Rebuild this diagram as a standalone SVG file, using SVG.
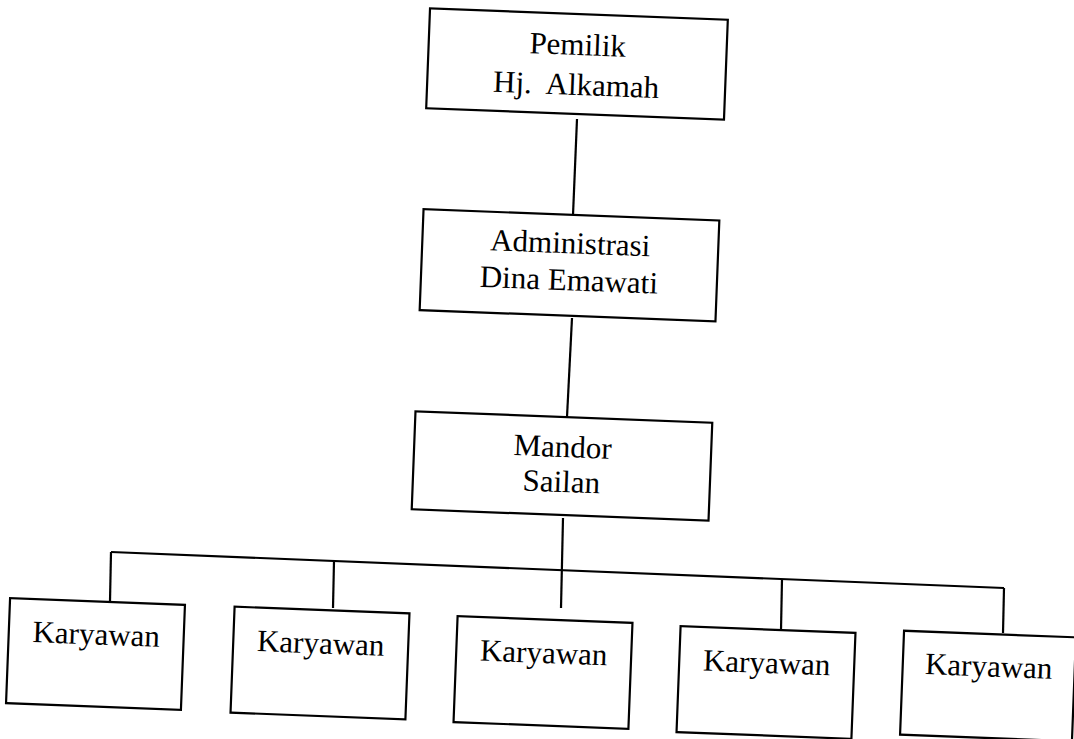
<svg xmlns="http://www.w3.org/2000/svg" width="1074" height="739" viewBox="0 0 1074 739">
<style>
.box{fill:#fff;stroke:#000;stroke-width:2.2}
.t{font-family:"Liberation Serif","Times New Roman",serif;font-size:31px;fill:#000;text-anchor:middle}
.c{stroke:#000;stroke-width:2.2;fill:none}
</style>
<rect width="1074" height="739" fill="#fff"/>
<g id="connectors">
<line class="c" x1="577" y1="119" x2="573" y2="215"/>
<line class="c" x1="572" y1="318" x2="567" y2="417"/>
<line class="c" x1="563" y1="518" x2="561" y2="608"/>
<line class="c" x1="111" y1="552" x2="1004" y2="588"/>
<line class="c" x1="111" y1="552" x2="110" y2="601"/>
<line class="c" x1="334" y1="561" x2="333" y2="608"/>
<line class="c" x1="782" y1="579" x2="781" y2="630"/>
<line class="c" x1="1004" y1="588" x2="1003" y2="633"/>
</g>
<g id="pemilik" transform="rotate(2.2 577 64)">
<rect class="box" x="428" y="14" width="298" height="100"/>
<text class="t" x="577" y="55">Pemilik</text>
<text class="t" x="577" y="95" xml:space="preserve">Hj.  Alkamah</text>
</g>
<g id="administrasi" transform="rotate(2.2 569.5 265.3)">
<rect class="box" x="421.5" y="214.8" width="296" height="101"/>
<text class="t" x="569.5" y="253.3">Administrasi</text>
<text class="t" x="569.5" y="290.3">Dina Emawati</text>
</g>
<g id="mandor" transform="rotate(2.2 562 466)">
<rect class="box" x="413.5" y="417" width="297" height="98"/>
<text class="t" x="562" y="457">Mandor</text>
<text class="t" x="562" y="492">Sailan</text>
</g>
<g id="karyawan1" transform="rotate(2.2 95.5 654)">
<rect class="box" x="8" y="601.5" width="175" height="105"/>
<text class="t" x="95.5" y="644.5">Karyawan</text>
</g>
<g id="karyawan2" transform="rotate(2.2 320 663)">
<rect class="box" x="232.5" y="610" width="175" height="106"/>
<text class="t" x="320" y="653.5">Karyawan</text>
</g>
<g id="karyawan3" transform="rotate(2.2 543 672.5)">
<rect class="box" x="455.5" y="619.5" width="175" height="106"/>
<text class="t" x="543" y="663">Karyawan</text>
</g>
<g id="karyawan4" transform="rotate(2.2 766 682.5)">
<rect class="box" x="678.5" y="629.5" width="175" height="106"/>
<text class="t" x="766" y="673">Karyawan</text>
</g>
<g id="karyawan5" transform="rotate(2.2 988 686)">
<rect class="box" x="902" y="634" width="172" height="104"/>
<text class="t" x="988" y="676.5">Karyawan</text>
</g>
</svg>
